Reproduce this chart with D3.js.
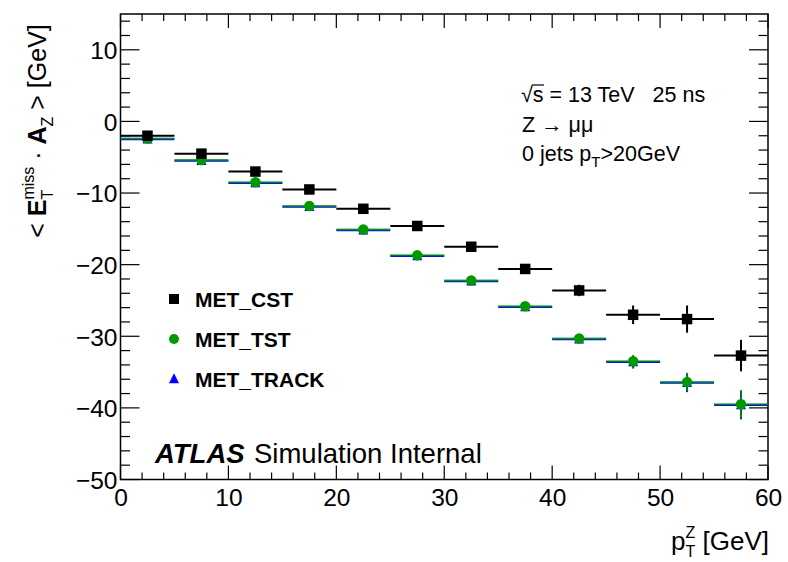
<!DOCTYPE html>
<html>
<head>
<meta charset="utf-8">
<script src="https://cdn.jsdelivr.net/npm/d3@7"></script>
<style>
  html, body { margin: 0; padding: 0; background: #fff; }
  svg { display: block; }
  text { font-family: "Liberation Sans", Arial, Helvetica, sans-serif; }
</style>
</head>
<body>
<svg id="chart" width="788" height="562"></svg>
<script>
// ---- data ----
const binLow = [0, 5, 10, 15, 20, 25, 30, 35, 40, 45, 50, 55];
const binHigh = [5, 10, 15, 20, 25, 30, 35, 40, 45, 50, 55, 60];
const binCenter = [2.5, 7.5, 12.5, 17.5, 22.5, 27.5, 32.5, 37.5, 42.5, 47.5, 52.5, 57.5];
const cstValues = [-2.0, -4.5, -7.0, -9.5, -12.2, -14.6, -17.5, -20.6, -23.6, -27.0, -27.6, -32.7];
const cstErrors = [0.2, 0.2, 0.2, 0.25, 0.3, 0.3, 0.4, 0.5, 0.8, 1.3, 1.9, 2.2];
const tstValues = [-2.4, -5.4, -8.5, -11.8, -15.1, -18.7, -22.2, -25.8, -30.3, -33.5, -36.4, -39.5];
const tstErrors = [0.1, 0.15, 0.2, 0.2, 0.25, 0.3, 0.35, 0.4, 0.5, 0.9, 1.3, 2.0];
const trackValues = [-2.5, -5.5, -8.6, -11.9, -15.2, -18.8, -22.3, -25.9, -30.4, -33.6, -36.5, -39.6];
const trackErrors = [0.1, 0.15, 0.2, 0.2, 0.25, 0.3, 0.35, 0.4, 0.5, 0.9, 1.3, 2.0];
const xTicks = [0, 10, 20, 30, 40, 50, 60];
const yTicks = [-50, -40, -30, -20, -10, 0, 10];
const seriesNames = ["MET_CST", "MET_TST", "MET_TRACK"];
const seriesColors = ["#000000", "#009a00", "#0000ff"];
const seriesShapes = ["square", "circle", "triangle"];

// ---- layout ----
const svg = d3.select("#chart");
const L = 120.5, R = 768, T = 14, B = 479.5;
const x = d3.scaleLinear().domain([0, 60]).range([L, R]);
const y = d3.scaleLinear().domain([-50, 15]).range([B, T]);
const FONT = '"Liberation Sans", Arial, Helvetica, sans-serif';
const SERIF = '"Liberation Serif", "DejaVu Serif", serif';

// frame
svg.append("rect").attr("x", L).attr("y", T).attr("width", R - L).attr("height", B - T)
  .attr("fill", "none").attr("stroke", "#000").attr("stroke-width", 1.5);

const xMinor = d3.range(0, 61, 2);
const yMinor = d3.range(-50, 16, 2);

// ticks
{
  const g = svg.append("g").attr("stroke", "#000").attr("stroke-width", 1.2);
  xMinor.forEach(v => {
    const len = v % 10 === 0 ? 14 : 7;
    g.append("line").attr("x1", x(v)).attr("x2", x(v)).attr("y1", B).attr("y2", B - len);
    g.append("line").attr("x1", x(v)).attr("x2", x(v)).attr("y1", T).attr("y2", T + len);
  });
  yMinor.forEach(v => {
    const len = v % 10 === 0 ? 19 : 9.5;
    g.append("line").attr("y1", y(v)).attr("y2", y(v)).attr("x1", L).attr("x2", L + len);
    g.append("line").attr("y1", y(v)).attr("y2", y(v)).attr("x1", R).attr("x2", R - len);
  });
}

// tick labels via d3 axes (domain/tick lines hidden)
const fmt = d => (d < 0 ? "\u2212" + Math.abs(d) : String(d));
const xAxis = svg.append("g").attr("transform", `translate(0,${B})`)
  .call(d3.axisBottom(x).tickValues(xTicks).tickFormat(fmt).tickSize(0).tickPadding(3));
const yAxis = svg.append("g").attr("transform", `translate(${L},0)`)
  .call(d3.axisLeft(y).tickValues(yTicks).tickFormat(fmt).tickSize(0).tickPadding(3));
[xAxis, yAxis].forEach(a => {
  a.select(".domain").remove();
  a.selectAll("text").attr("font-family", FONT).attr("font-size", 24.5).attr("fill", "#000");
});
xAxis.selectAll("text").attr("dy", "0.95em");
yAxis.selectAll("text").attr("dy", "0.36em");

// ---- composed label helper ----
function compose(parent, pieces) {
  const g = parent.append("g");
  let cx = 0;
  const pos = [];
  pieces.forEach(p => {
    if (p.stack) {
      let w = 0;
      p.stack.forEach(s => {
        const t = g.append("text").attr("x", cx).attr("y", s.dy)
          .attr("font-family", s.family || FONT).attr("font-size", s.size)
          .attr("font-weight", s.weight || "normal").text(s.text);
        w = Math.max(w, t.node().getComputedTextLength());
      });
      pos.push([cx, w]);
      cx += w;
    } else {
      const t = g.append("text").attr("x", cx).attr("y", p.dy || 0)
        .attr("font-family", p.family || FONT).attr("font-size", p.size)
        .attr("font-weight", p.weight || "normal").attr("font-style", p.style || "normal")
        .attr("xml:space", "preserve").style("white-space", "pre").text(p.text);
      const w = t.node().getComputedTextLength();
      pos.push([cx, w]);
      cx += w;
    }
  });
  return { g, width: cx, pos };
}

// y axis title
{
  const outer = svg.append("g").attr("transform", "translate(46,131) rotate(-90)");
  const c = compose(outer, [
    { text: "< ", size: 25 },
    { text: "E", size: 25, weight: "bold", family: SERIF },
    { stack: [{ text: "miss", size: 16, dy: -12 }, { text: "T", size: 16, dy: 7 }] },
    { text: " \u00b7 ", size: 25 },
    { text: "A", size: 25, weight: "bold", family: SERIF },
    { stack: [{ text: "Z", size: 16, dy: 7 }] },
    { text: " > [GeV]", size: 25 }
  ]);
  c.g.attr("transform", `translate(${-c.width / 2},0)`);
}

// x axis title
{
  const outer = svg.append("g").attr("transform", "translate(769,550)");
  const c = compose(outer, [
    { text: "p", size: 26 },
    { stack: [{ text: "Z", size: 16, dy: -12 }, { text: "T", size: 16, dy: 7 }] },
    { text: " [GeV]", size: 26 }
  ]);
  c.g.attr("transform", `translate(${-c.width},0)`);
}

// annotations
{
  const a1 = svg.append("g").attr("transform", "translate(521,102)");
  const c1 = compose(a1, [
    { text: "\u221a", size: 21.5 },
    { text: "s", size: 21.5 },
    { text: " = 13 TeV   25 ns", size: 21.5 }
  ]);
  const sp = c1.pos[1];
  a1.append("line").attr("x1", sp[0] - 1).attr("x2", sp[0] + sp[1] + 0.5)
    .attr("y1", -17).attr("y2", -17).attr("stroke", "#000").attr("stroke-width", 1.2);
  svg.append("text").attr("x", 522).attr("y", 132).attr("font-size", 21.5).text("Z \u2192 \u03bc\u03bc");
  const a3 = svg.append("g").attr("transform", "translate(522,161)");
  compose(a3, [
    { text: "0 jets p", size: 21.5 },
    { stack: [{ text: "T", size: 15, dy: 6 }] },
    { text: ">20GeV", size: 21.5 }
  ]);
}

// ATLAS label
svg.append("text").attr("x", 155).attr("y", 463).attr("font-size", 27.5)
  .attr("font-weight", "bold").attr("font-style", "italic").text("ATLAS");
svg.append("text").attr("x", 254).attr("y", 463).attr("font-size", 27.5).text("Simulation Internal");

// ---- markers ----
function marker(g, shape, cxp, cyp, color, size) {
  if (shape === "square") {
    g.append("rect").attr("x", cxp - size / 2).attr("y", cyp - size / 2)
      .attr("width", size).attr("height", size).attr("fill", color);
  } else if (shape === "circle") {
    g.append("circle").attr("cx", cxp).attr("cy", cyp).attr("r", size / 2).attr("fill", color);
  } else {
    const h = size * 0.95, w = size;
    g.append("path").attr("d", `M${cxp},${cyp - h * 0.6} L${cxp + w / 2},${cyp + h * 0.45} L${cxp - w / 2},${cyp + h * 0.45} Z`)
      .attr("fill", color);
  }
}

function drawSeries(vals, errs, color, shape, barColor, opacity) {
  const g = svg.append("g");
  vals.forEach((v, i) => {
    g.append("line").attr("x1", x(binLow[i])).attr("x2", x(binHigh[i]))
      .attr("y1", y(v)).attr("y2", y(v)).attr("stroke", barColor).attr("stroke-width", 2)
      .attr("stroke-opacity", opacity);
    g.append("line").attr("x1", x(binCenter[i])).attr("x2", x(binCenter[i]))
      .attr("y1", y(v - errs[i])).attr("y2", y(v + errs[i])).attr("stroke", barColor).attr("stroke-width", 2)
      .attr("stroke-opacity", opacity);
  });
  vals.forEach((v, i) => marker(g, shape, x(binCenter[i]), y(v), color, shape === "triangle" ? 10 : 10.5));
}
drawSeries(trackValues, trackErrors, seriesColors[2], seriesShapes[2], seriesColors[2], 1);
drawSeries(tstValues, tstErrors, seriesColors[1], seriesShapes[1], seriesColors[1], 0.75);
drawSeries(cstValues, cstErrors, seriesColors[0], seriesShapes[0], seriesColors[0], 1);

// ---- legend ----
const legY = [299, 339, 379];
seriesNames.forEach((n, i) => {
  marker(svg, seriesShapes[i], 174, legY[i], seriesColors[i], 10);
  svg.append("text").attr("x", 195).attr("y", legY[i] + 8).attr("font-size", 21)
    .attr("font-weight", "bold").text(n);
});
</script>
</body>
</html>
